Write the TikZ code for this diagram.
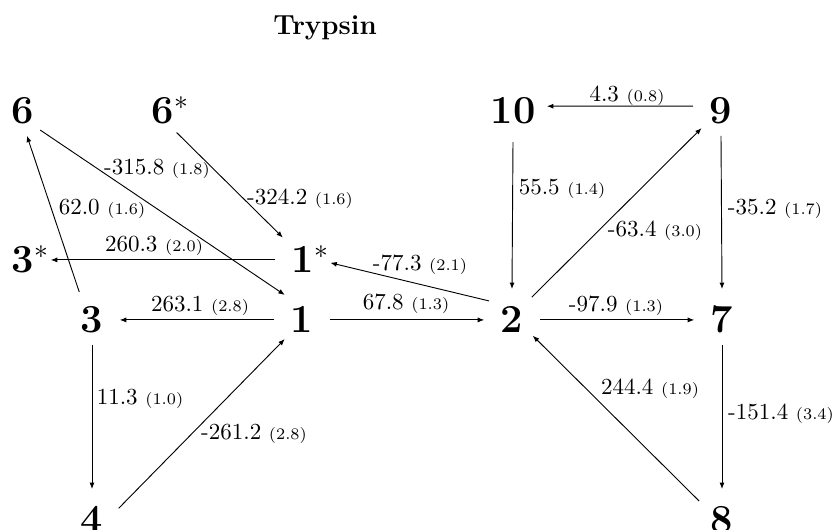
\documentclass[tikz,border=0pt]{standalone}
\usetikzlibrary{arrows.meta}
\begin{document}
\begin{tikzpicture}[x=0.4348pt,y=-0.4348pt,
  nd/.style={circle,inner sep=0pt,outer sep=0pt,minimum size=24.35pt,font=\LARGE\bfseries,text height=13.7pt,text depth=0pt},
  wide/.style={minimum size=29.6pt},
  lab/.style={anchor=base,inner sep=0pt,font=\normalsize},
  arr/.style={-{Latex[length=2.8pt,width=2.2pt]},line width=0.4pt}]
\useasboundingbox (0,0) rectangle (834,530);
\node[anchor=base,font=\large\bfseries] (title) at (325,35) {Trypsin};
% nodes
\node[nd] (n6)  at (23,108)  {6};
\node[nd] (n6s) at (163,108) {6\rlap{$^*$}};
\node[nd,wide] (n10) at (513,108) {10};
\node[nd] (n9)  at (721,108) {9};
\node[nd] (n3s) at (23,257)  {3\rlap{$^*$}};
\node[nd] (n1s) at (303,257) {1\rlap{$^*$}};
\node[nd] (n3)  at (92,317)  {3};
\node[nd] (n1)  at (302,317) {1};
\node[nd] (n2)  at (512,317) {2};
\node[nd] (n7)  at (722,317) {7};
\node[nd] (n4)  at (92,517)  {4};
\node[nd] (n8)  at (722,517) {8};
% connectors
\draw[arr] (n6.308.4) -- (n1.128.3);
\draw[arr] (n6s.299.2) -- (n1s.136.8);
\draw[arr] (n3.117.8) -- (n6.278.9);
\draw[arr] (n1s.186) -- (n3s.354);
\draw[arr] (n1.186) -- (n3.354);
\draw[arr] (n3.270) -- (n4.90);
\draw[arr] (n4.18.4) -- (n1.232.8);
\draw[arr] (n1.354) -- (n2.186);
\draw[arr] (n2.145.7) -- (n1s.348.3);
\draw[arr] (n10.270) -- (n2.90);
\draw[arr] (n2.45) -- (n9.226.1);
\draw[arr] (n9.176) -- (n10.3);
\draw[arr] (n9.270) -- (n7.90);
\draw[arr] (n2.354) -- (n7.186);
\draw[arr] (n7.270) -- (n8.90);
\draw[arr] (n8.145.7) -- (n2.318.4);
% labels
\node[lab] (l1)  at (157,175) {-315.8 {\scriptsize (1.8)}};
\node[lab] (l2)  at (300,205) {-324.2 {\scriptsize (1.6)}};
\node[lab] (l3)  at (102,215) {62.0 {\scriptsize (1.6)}};
\node[lab] (l4)  at (154,252) {260.3 {\scriptsize (2.0)}};
\node[lab] (l5)  at (200,312) {263.1 {\scriptsize (2.8)}};
\node[lab] (l6)  at (140,405) {11.3 {\scriptsize (1.0)}};
\node[lab] (l7)  at (254,440) {-261.2 {\scriptsize (2.8)}};
\node[lab] (l8)  at (406,310) {67.8 {\scriptsize (1.3)}};
\node[lab] (l9)  at (420,271) {-77.3 {\scriptsize (2.1)}};
\node[lab] (l10) at (562,195) {55.5 {\scriptsize (1.4)}};
\node[lab] (l11) at (655,237) {-63.4 {\scriptsize (3.0)}};
\node[lab] (l12) at (627,102) {4.3 {\scriptsize (0.8)}};
\node[lab] (l13) at (775,215) {-35.2 {\scriptsize (1.7)}};
\node[lab] (l14) at (616,312) {-97.9 {\scriptsize (1.3)}};
\node[lab] (l15) at (781,420) {-151.4 {\scriptsize (3.4)}};
\node[lab] (l16) at (650,395) {244.4 {\scriptsize (1.9)}};
\end{tikzpicture}
\end{document}
